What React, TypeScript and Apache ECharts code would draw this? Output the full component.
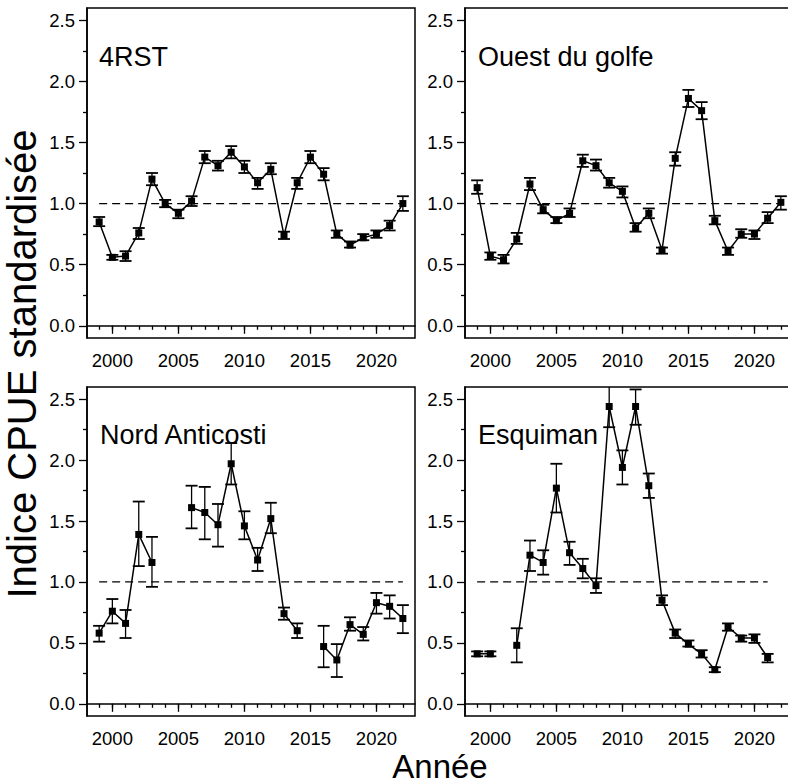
import React, { useEffect, useRef } from "react";
import * as echarts from "echarts";

const years = [1999, 2000, 2001, 2002, 2003, 2004, 2005, 2006, 2007, 2008, 2009, 2010, 2011, 2012, 2013, 2014, 2015, 2016, 2017, 2018, 2019, 2020, 2021, 2022];
const majorYears = [2000, 2005, 2010, 2015, 2020];
const minorYears = years;
const yMajorTicks = [0, 0.5, 1, 1.5, 2, 2.5];
const yMinorTicks = [0.25, 0.75, 1.25, 1.75, 2.25];
const panelTitles = ["4RST", "Ouest du golfe", "Nord Anticosti", "Esquiman"];

const rstValue = [0.85, 0.56, 0.57, 0.76, 1.2, 1.0, 0.92, 1.02, 1.38, 1.31, 1.42, 1.3, 1.17, 1.28, 0.74, 1.17, 1.38, 1.24, 0.75, 0.66, 0.72, 0.75, 0.82, 1.0];
const rstLow = [0.815, 0.54, 0.53, 0.71, 1.15, 0.97, 0.88, 0.98, 1.33, 1.27, 1.37, 1.25, 1.12, 1.24, 0.71, 1.12, 1.33, 1.19, 0.72, 0.64, 0.7, 0.72, 0.78, 0.94];
const rstHigh = [0.89, 0.58, 0.61, 0.8, 1.25, 1.03, 0.95, 1.06, 1.43, 1.35, 1.47, 1.35, 1.21, 1.33, 0.77, 1.21, 1.43, 1.29, 0.78, 0.69, 0.75, 0.78, 0.86, 1.06];

const ouestValue = [1.13, 0.57, 0.54, 0.71, 1.16, 0.95, 0.86, 0.92, 1.35, 1.31, 1.17, 1.1, 0.8, 0.92, 0.62, 1.37, 1.86, 1.76, 0.86, 0.61, 0.75, 0.75, 0.88, 1.01];
const ouestLow = [1.08, 0.54, 0.51, 0.67, 1.11, 0.92, 0.84, 0.89, 1.3, 1.27, 1.13, 1.05, 0.77, 0.88, 0.59, 1.31, 1.79, 1.69, 0.83, 0.58, 0.72, 0.71, 0.84, 0.95];
const ouestHigh = [1.19, 0.6, 0.58, 0.76, 1.21, 0.99, 0.89, 0.96, 1.4, 1.36, 1.21, 1.14, 0.84, 0.96, 0.64, 1.42, 1.93, 1.83, 0.9, 0.64, 0.79, 0.78, 0.93, 1.06];

const nordValue = [0.58, 0.76, 0.66, 1.39, 1.16, null, null, 1.61, 1.57, 1.47, 1.97, 1.46, 1.18, 1.52, 0.74, 0.6, null, 0.47, 0.36, 0.65, 0.57, 0.83, 0.8, 0.7];
const nordLow = [0.51, 0.66, 0.54, 1.13, 0.96, null, null, 1.44, 1.35, 1.29, 1.8, 1.35, 1.09, 1.4, 0.69, 0.54, null, 0.3, 0.22, 0.6, 0.52, 0.74, 0.7, 0.58];
const nordHigh = [0.64, 0.86, 0.77, 1.66, 1.37, null, null, 1.79, 1.78, 1.64, 2.14, 1.58, 1.28, 1.65, 0.79, 0.66, null, 0.64, 0.49, 0.71, 0.63, 0.91, 0.89, 0.81];

const esqValue = [0.41, 0.41, null, 0.48, 1.22, 1.16, 1.77, 1.24, 1.11, 0.97, 2.44, 1.94, 2.44, 1.79, 0.85, 0.58, 0.49, 0.41, 0.28, 0.63, 0.54, 0.54, 0.38, null];
const esqLow = [0.39, 0.39, null, 0.34, 1.09, 1.06, 1.57, 1.14, 1.03, 0.91, 2.27, 1.8, 2.29, 1.69, 0.81, 0.54, 0.47, 0.38, 0.26, 0.6, 0.51, 0.5, 0.34, null];
const esqHigh = [0.43, 0.43, null, 0.62, 1.34, 1.26, 1.97, 1.33, 1.19, 1.03, 2.62, 2.08, 2.58, 1.89, 0.89, 0.61, 0.52, 0.44, 0.3, 0.66, 0.56, 0.57, 0.41, null];

const panels = [
  { title: panelTitles[0], value: rstValue, low: rstLow, high: rstHigh },
  { title: panelTitles[1], value: ouestValue, low: ouestLow, high: ouestHigh },
  { title: panelTitles[2], value: nordValue, low: nordLow, high: nordHigh },
  { title: panelTitles[3], value: esqValue, low: esqLow, high: esqHigh },
];

const FONT = "'Liberation Sans', Arial, sans-serif";
const gridRects = [
  { left: 87, top: 8, width: 328, height: 330 },
  { left: 465, top: 8, width: 328, height: 330 },
  { left: 87, top: 387, width: 328, height: 329 },
  { left: 465, top: 387, width: 328, height: 329 },
];
const titlePos = [
  { x: 99, y: 57 },
  { x: 478, y: 57 },
  { x: 100, y: 435 },
  { x: 478, y: 435 },
];

export default function App() {
  const ref = useRef<HTMLDivElement>(null);
  useEffect(() => {
    if (!ref.current) return;
    const chart = echarts.init(ref.current, null, { renderer: "svg" });
    const grids: any[] = [];
    const xAxes: any[] = [];
    const yAxes: any[] = [];
    const series: any[] = [];
    const graphics: any[] = [];
    panels.forEach((p, i) => {
      grids.push({
        ...gridRects[i],
        show: true,
        borderColor: "#000",
        borderWidth: 1.5,
        backgroundColor: "transparent",
        containLabel: false,
        outerBoundsMode: "none",
      });
      const xBase = { gridIndex: i, type: "value", min: 1998.08, max: 2022.92, position: "bottom", splitLine: { show: false } };
      xAxes.push({
        ...xBase,
        axisLine: { show: true, lineStyle: { color: "#000", width: 1.5 } },
        axisTick: { show: true, length: 8, customValues: majorYears, lineStyle: { color: "#000", width: 1.3 } },
        axisLabel: { show: true, customValues: majorYears, margin: 13, fontSize: 18.5, color: "#000", fontFamily: FONT, formatter: (v: number) => String(Math.round(v)) },
      });
      xAxes.push({
        ...xBase,
        axisLine: { show: false },
        axisTick: { show: true, length: 4, customValues: minorYears, lineStyle: { color: "#000", width: 1.3 } },
        axisLabel: { show: false },
      });
      const yBase = { gridIndex: i, type: "value", min: -0.1, max: 2.6, position: "left", splitLine: { show: false } };
      yAxes.push({
        ...yBase,
        axisLine: { show: true, lineStyle: { color: "#000", width: 1.5 } },
        axisTick: { show: true, length: 8, customValues: yMajorTicks, lineStyle: { color: "#000", width: 1.3 } },
        axisLabel: { show: true, customValues: yMajorTicks, margin: 12, fontSize: 18.5, color: "#000", fontFamily: FONT, formatter: (v: number) => v.toFixed(1) },
      });
      yAxes.push({
        ...yBase,
        axisLine: { show: false },
        axisTick: { show: true, length: 4, customValues: yMinorTicks, lineStyle: { color: "#000", width: 1.3 } },
        axisLabel: { show: false },
      });
      const present = years.filter((_, k) => p.value[k] != null);
      const firstYear = present[0];
      const lastYear = present[present.length - 1];
      series.push({
        type: "line",
        xAxisIndex: 2 * i,
        yAxisIndex: 2 * i,
        data: [[firstYear, 1], [lastYear, 1]],
        symbol: "none",
        lineStyle: { color: "#000", width: 1.3, type: [8, 5] },
        silent: true,
        z: 1,
      });
      series.push({
        type: "custom",
        xAxisIndex: 2 * i,
        yAxisIndex: 2 * i,
        clip: true,
        z: 2,
        data: years.map((y, k) => (p.value[k] == null ? [y, "-", "-"] : [y, p.low[k], p.high[k]])),
        encode: { x: 0, y: [1, 2] },
        renderItem: (params: any, api: any) => {
          const x = api.value(0);
          const lo = api.value(1);
          const hi = api.value(2);
          if (isNaN(lo) || isNaN(hi)) return null;
          const a = api.coord([x, lo]);
          const b = api.coord([x, hi]);
          const hw = 6;
          const st = { stroke: "#000", lineWidth: 1.3 };
          const cap = { stroke: "#000", lineWidth: 1.8 };
          return {
            type: "group",
            children: [
              { type: "line", shape: { x1: a[0], y1: a[1], x2: b[0], y2: b[1] }, style: st },
              { type: "line", shape: { x1: a[0] - hw, y1: a[1], x2: a[0] + hw, y2: a[1] }, style: cap },
              { type: "line", shape: { x1: b[0] - hw, y1: b[1], x2: b[0] + hw, y2: b[1] }, style: cap },
            ],
          };
        },
      });
      series.push({
        type: "line",
        xAxisIndex: 2 * i,
        yAxisIndex: 2 * i,
        data: years.map((y, k) => [y, p.value[k] == null ? "-" : p.value[k]]),
        connectNulls: false,
        symbol: "rect",
        symbolSize: 7,
        itemStyle: { color: "#000" },
        lineStyle: { color: "#000", width: 1.5 },
        z: 3,
      });
      graphics.push({
        type: "text",
        x: titlePos[i].x,
        y: titlePos[i].y,
        style: { text: p.title, fontSize: 27, fontFamily: FONT, fill: "#000", align: "left", verticalAlign: "middle" },
        z: 10,
      });
    });
    graphics.push({
      type: "text",
      x: 22,
      y: 364,
      rotation: Math.PI / 2,
      style: { text: "Indice CPUE standardisée", fontSize: 40, fontFamily: FONT, fill: "#000", align: "center", verticalAlign: "middle" },
    });
    graphics.push({
      type: "text",
      x: 440,
      y: 766,
      style: { text: "Année", fontSize: 33, fontFamily: FONT, fill: "#000", align: "center", verticalAlign: "middle" },
    });
    chart.setOption({
      animation: false,
      backgroundColor: "#fff",
      textStyle: { fontFamily: FONT },
      grid: grids,
      xAxis: xAxes,
      yAxis: yAxes,
      series,
      graphic: graphics,
    });
    return () => chart.dispose();
  }, []);
  return <div ref={ref} style={{ position: "fixed", left: 0, top: 0, width: 788, height: 784 }} />;
}
